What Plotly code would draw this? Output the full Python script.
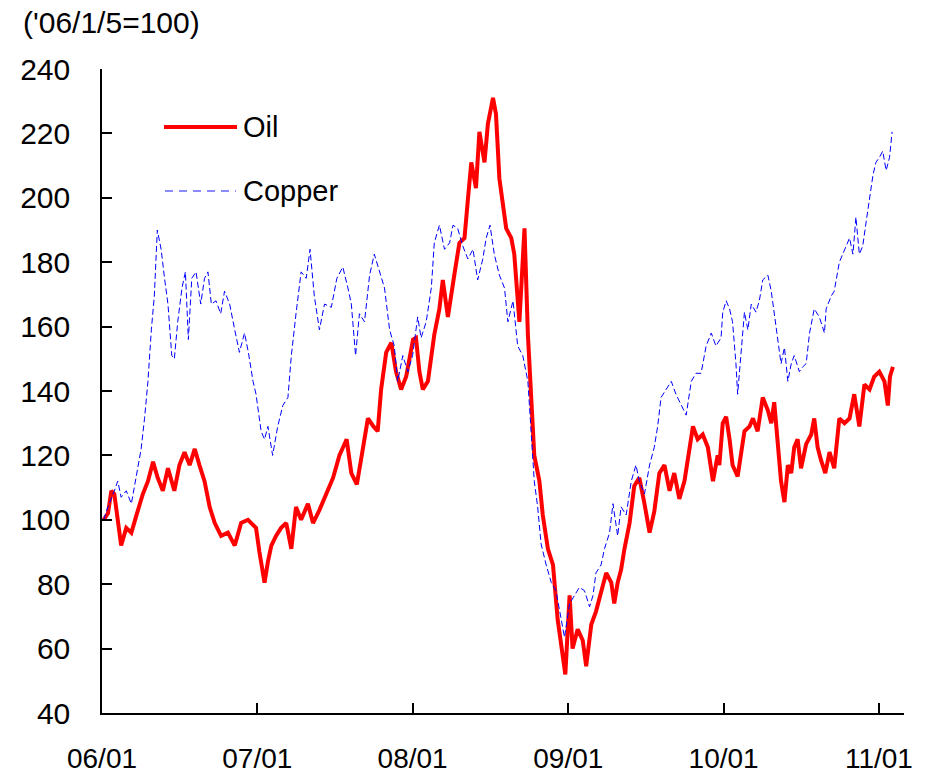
import pandas as pd
import plotly.graph_objects as go

# Days since 2006-01-01 and index values ('06/1/5 = 100)
oil_days = [4, 14, 22, 29, 37, 45, 57, 69, 80, 96, 108, 120, 131, 143, 155, 170, 182, 194, 206, 218,
            229, 241, 253, 265, 280, 296, 312, 327, 343, 362, 370, 382, 390, 398, 409, 421, 433, 445, 456, 468,
            484, 496, 511, 527, 543, 558, 575, 586, 599, 613, 625, 638, 648, 656, 668, 680, 691, 703, 715, 731,
            738, 746, 754, 766, 774, 781, 793, 801, 813, 821, 828, 840, 852, 860, 868, 879, 887, 899, 907, 919,
            926, 934, 942, 950, 962, 969, 981, 993, 1001, 1009, 1016, 1028, 1036, 1048, 1060, 1071, 1083, 1089, 1099, 1106,
            1118, 1130, 1138, 1150, 1161, 1173, 1185, 1197, 1204, 1212, 1220, 1228, 1240, 1251, 1263, 1275, 1287, 1298, 1310, 1322,
            1334, 1345, 1357, 1369, 1381, 1389, 1400, 1412, 1424, 1436, 1447, 1451, 1459, 1467, 1475, 1482, 1494, 1502, 1510, 1522,
            1530, 1541, 1553, 1565, 1573, 1580, 1588, 1596, 1604, 1612, 1620, 1627, 1635, 1643, 1655, 1667, 1674, 1682, 1690, 1700,
            1710, 1721, 1733, 1745, 1757, 1768, 1780, 1792, 1804, 1815, 1827, 1839, 1847, 1852, 1859]
oil_vals = [100, 102, 109, 108, 100, 92, 97.5, 96, 101, 108, 112, 118, 113, 109, 116, 109, 117, 121, 117, 122,
            117, 112, 104, 99, 95, 96, 92, 99, 100, 97.5, 90, 80.5, 87, 92, 95, 97.5, 99, 91, 104, 100,
            105, 99, 103, 108, 113, 120, 125, 114.5, 111, 122, 131.5, 129, 127.5, 140.5, 152, 155, 146, 140.5, 144.5, 156,
            156.5, 146, 140.5, 143, 151, 157.5, 165.5, 174.5, 163, 169, 176, 186, 187.5, 199.5, 211, 203, 220.5, 211, 223, 231,
            226, 206, 198.5, 190.5, 187.5, 182.5, 161.5, 190.5, 157.5, 135.5, 120, 112, 101.5, 91, 86, 69, 56, 52, 76.5, 60,
            66, 62.5, 54.5, 67.5, 71.5, 78, 83.5, 80.5, 74, 80.5, 84.5, 91, 99, 110.5, 113, 105, 96, 102.5, 114.5, 117,
            109, 114.5, 106.5, 112, 122.5, 129, 125, 126.5, 122.5, 112, 120, 117, 130, 132, 125, 117, 113.5, 120, 127.5, 129,
            131.5, 127.5, 138, 134, 130, 136.5, 123.5, 112, 105.5, 117, 114.5, 122.5, 125, 116, 123.5, 126.5, 131.5, 122.5, 118.5, 114.5,
            121, 116, 131.5, 130, 131.5, 139, 129, 142, 140.5, 144.5, 146, 143, 135.5, 144.5, 147.5]

copper_days = [4, 14, 29, 37, 45, 57, 69, 80, 92, 100, 108, 116, 123, 130, 139, 147, 155, 164, 170, 178,
               188, 196, 203, 211, 221, 232, 241, 249, 257, 268, 279, 288, 300, 312, 323, 335, 344, 355, 362, 374,
               382, 390, 401, 413, 425, 437, 445, 456, 468, 480, 489, 499, 511, 523, 539, 552, 566, 578, 586, 596,
               605, 617, 629, 640, 652, 664, 676, 687, 695, 707, 719, 730, 742, 750, 762, 774, 781, 793, 805, 817,
               825, 836, 848, 860, 872, 883, 895, 903, 912, 922, 934, 946, 954, 966, 977, 989, 1001, 1009, 1016, 1024,
               1032, 1044, 1056, 1067, 1079, 1087, 1099, 1110, 1122, 1134, 1146, 1154, 1161, 1173, 1181, 1193, 1201, 1212, 1220, 1232,
               1244, 1255, 1263, 1275, 1287, 1298, 1306, 1314, 1326, 1338, 1349, 1361, 1373, 1385, 1396, 1408, 1420, 1432, 1443, 1455,
               1459, 1467, 1475, 1482, 1490, 1494, 1502, 1510, 1518, 1526, 1537, 1545, 1553, 1565, 1573, 1580, 1588, 1596, 1604, 1612,
               1620, 1627, 1639, 1647, 1655, 1663, 1674, 1686, 1698, 1702, 1714, 1721, 1733, 1745, 1757, 1765, 1772, 1780, 1788, 1796,
               1804, 1812, 1819, 1827, 1835, 1843, 1851, 1857]
copper_vals = [100, 104, 109, 112, 107, 109, 105, 113, 122, 131.5, 143, 159, 169.5, 190, 184, 175, 167, 151, 150, 161.5,
               172, 177, 156, 175, 177, 167, 175, 177, 167, 168, 164, 171, 167, 159, 152, 158, 152, 143, 139, 127.5,
               125, 129, 120, 129, 135.5, 138, 151, 164, 177, 175, 184, 169.5, 159, 167, 166, 175, 178.5, 172, 167, 151,
               164, 161.5, 176, 182.5, 177, 172, 159, 154, 143, 151, 146, 151, 163, 156.5, 161.5, 172, 186, 191.5, 184, 186,
               191.5, 190.5, 185, 181, 184, 174.5, 181, 187.5, 191.5, 182.5, 176, 172, 161.5, 168, 154, 151, 143, 125, 112, 104,
               92.5, 86, 80.5, 78, 69, 63.5, 74, 76.5, 79, 78, 73, 76.5, 83.5, 86, 91, 96, 105, 95, 104, 101.5,
               112, 117, 112, 108, 117, 122.5, 129, 138, 140.5, 143, 139, 135.5, 132.5, 143, 145.5, 145.5, 154, 158, 154, 156.5,
               164.5, 168, 165.5, 161.5, 148.5, 139, 151, 164.5, 159, 167, 164.5, 168, 174.5, 176, 171, 164.5, 156.5, 148.5, 153.5, 143,
               148.5, 151, 146, 147.5, 148.5, 158, 165.5, 163, 158, 165.5, 169.5, 171, 180, 184, 187.5, 182.5, 194, 182.5, 185, 192.5,
               200.5, 207, 211, 212.5, 214.5, 208.5, 212.5, 220.5]

tick_dates = ["2006-01-01", "2007-01-01", "2008-01-01", "2009-01-01", "2010-01-01", "2011-01-01"]
tick_labels = ["06/01", "07/01", "08/01", "09/01", "10/01", "11/01"]
series_names = ["Oil", "Copper"]

base = pd.Timestamp("2006-01-01")
oil_x = base + pd.to_timedelta(oil_days, unit="D")
cu_x = base + pd.to_timedelta(copper_days, unit="D")

FONT = "Liberation Sans, Arial, sans-serif"

fig = go.Figure()
fig.add_trace(go.Scatter(x=oil_x, y=oil_vals, mode="lines", name=series_names[0],
                         line=dict(color="#FF0000", width=4), showlegend=False))
fig.add_trace(go.Scatter(x=cu_x, y=copper_vals, mode="lines", name=series_names[1],
                         line=dict(color="#0000FF", width=1, dash="6px,3px"), showlegend=False))

# body margin is removed in the page (post_script), so figure pixels = page pixels
W, H = 925, 778
PL, PT, PR, PB = 102, 69, 904, 713          # plot area in page pixels
L, T, R, B = PL, PT, W - PR, H - PB
pw, ph = W - L - R, H - T - B

def px_x(p):
    return (p - PL) / pw

def px_y(p):
    return (PB - p) / ph

# manual legend
fig.add_shape(type="line", xref="paper", yref="paper", x0=px_x(164), x1=px_x(237), y0=px_y(127), y1=px_y(127),
              line=dict(color="#FF0000", width=4))
fig.add_shape(type="line", xref="paper", yref="paper", x0=px_x(165), x1=px_x(236), y0=px_y(191), y1=px_y(191),
              line=dict(color="#6666FF", width=1.5, dash="8px,6px"))
for name, yy in zip(series_names, [127, 191]):
    fig.add_annotation(text=name, xref="paper", yref="paper", x=px_x(241), y=px_y(yy),
                       xanchor="left", yanchor="middle", showarrow=False,
                       font=dict(family=FONT, size=29, color="black"))

fig.add_annotation(text="('06/1/5=100)", xref="paper", yref="paper", x=px_x(21), y=px_y(22),
                   xanchor="left", yanchor="middle", showarrow=False,
                   font=dict(family=FONT, size=30, color="black"))

fig.update_layout(
    template="none",
    width=W, height=H,
    margin=dict(l=L, r=R, t=T, b=B, autoexpand=False),
    paper_bgcolor="white", plot_bgcolor="white",
    font=dict(family=FONT, size=28, color="black"),
    xaxis=dict(type="date", range=["2006-01-01", "2011-03-01"],
               tickvals=tick_dates, ticktext=tick_labels, automargin=False,
               ticks="inside", ticklen=10, tickwidth=1.5, tickcolor="black",
               showline=True, linecolor="black", linewidth=1.5,
               showgrid=False, zeroline=False, ticklabelstandoff=20,
               tickfont=dict(family=FONT, size=28)),
    yaxis=dict(range=[40, 240], dtick=20, tick0=40, automargin=False,
               ticks="inside", ticklen=10, tickwidth=1.5, tickcolor="black",
               showline=True, linecolor="black", linewidth=1.5,
               showgrid=False, zeroline=False, ticklabelstandoff=24,
               tickfont=dict(family=FONT, size=30)),
)

fig.write_html("out.html", config={"displayModeBar": False},
               post_script="document.body.style.margin='0px';")
